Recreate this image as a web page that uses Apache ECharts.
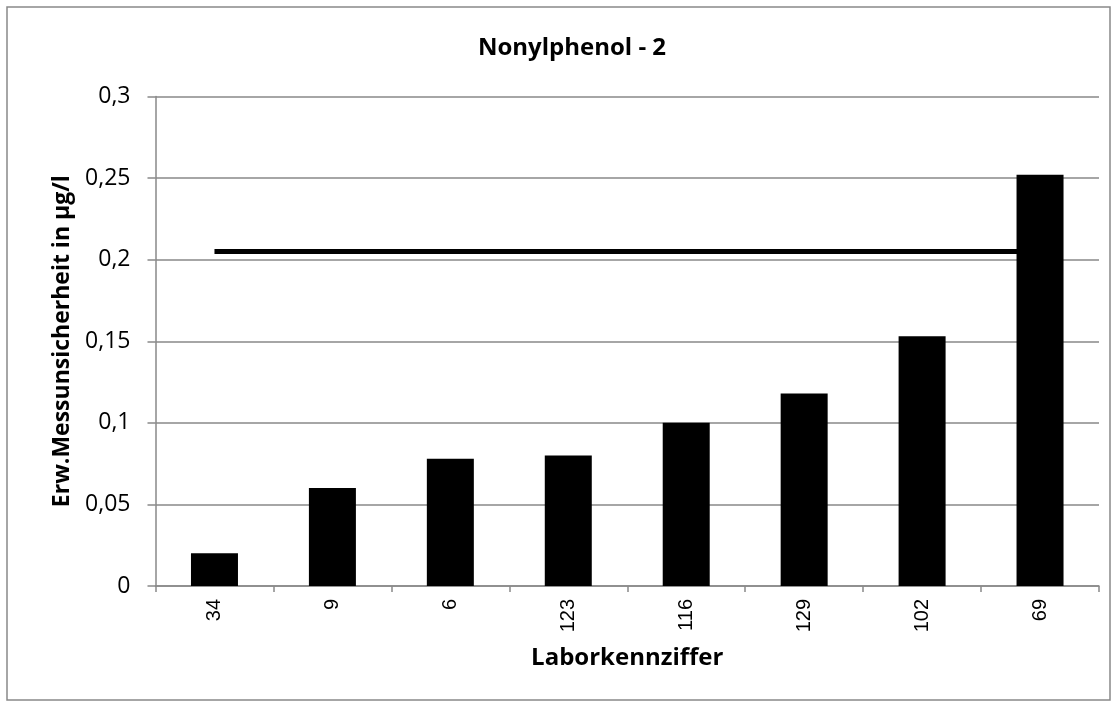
<!DOCTYPE html>
<html>
<head>
<meta charset="utf-8">
<script src="https://cdn.jsdelivr.net/npm/echarts@6/dist/echarts.min.js"></script>
<style>
html,body{margin:0;padding:0;background:#fff;}
#chart{width:1117px;height:706px;}
</style>
</head>
<body>
<div id="chart"></div>
<script>
const categories = ['34', '9', '6', '123', '116', '129', '102', '69'];
const uncertainty = [0.02, 0.06, 0.078, 0.08, 0.1, 0.118, 0.153, 0.252];
const limitValue = [0.205, 0.205, 0.205, 0.205, 0.205, 0.205, 0.205, 0.205];
const yTicks = { min: 0, max: 0.3, interval: 0.05 };

const chart = echarts.init(document.getElementById('chart'));
const fmt = v => String(Math.round(v * 100) / 100).replace('.', ',');
chart.setOption({
  animation: false,
  backgroundColor: '#fff',
  title: {
    text: 'Nonylphenol - 2',
    left: 567, top: 31, textAlign: 'center',
    textStyle: { fontFamily: 'Open Sans', fontWeight: 'bold', fontSize: 24, color: '#000' }
  },
  graphic: [{
    type: 'rect', shape: { x: 7, y: 7, width: 1103, height: 693 },
    style: { fill: 'none', stroke: '#898989', lineWidth: 1.5 }, silent: true
  }],
  grid: { left: 155.5, right: 18, top: 96.5, bottom: 120, containLabel: false },
  xAxis: {
    type: 'category', data: categories, boundaryGap: true,
    name: 'Laborkennziffer', nameLocation: 'middle', nameGap: 60,
    nameTextStyle: { fontFamily: 'Open Sans', fontWeight: 'bold', fontSize: 24, color: '#000' },
    axisLine: { lineStyle: { color: '#898989', width: 1.5 } },
    axisTick: { show: true, alignWithLabel: false, length: 6, lineStyle: { color: '#898989', width: 1.5 } },
    axisLabel: { rotate: 90, margin: 13, fontFamily: 'Liberation Sans', fontSize: 20, color: '#000', interval: 0 }
  },
  yAxis: {
    type: 'value', min: yTicks.min, max: yTicks.max, interval: yTicks.interval,
    name: 'Erw.Messunsicherheit in µg/l', nameLocation: 'middle', nameGap: 78, nameRotate: 90,
    nameTextStyle: { fontFamily: 'Open Sans', fontWeight: 'bold', fontSize: 23, color: '#000' },
    axisLine: { show: true, lineStyle: { color: '#898989', width: 1.5 } },
    axisTick: { show: true, length: 8, lineStyle: { color: '#898989', width: 1.5 } },
    axisLabel: { formatter: fmt, margin: 25, fontFamily: 'Open Sans', fontSize: 23, color: '#000' },
    splitLine: { show: true, lineStyle: { color: '#898989', width: 1.5 } }
  },
  series: [
    {
      type: 'line', data: limitValue, symbol: 'none', z: 1,
      lineStyle: { color: '#000', width: 5 }
    },
    {
      type: 'bar', data: uncertainty, barWidth: 47, z: 3,
      itemStyle: { color: '#000' }
    }
  ]
});
</script>
</body>
</html>
